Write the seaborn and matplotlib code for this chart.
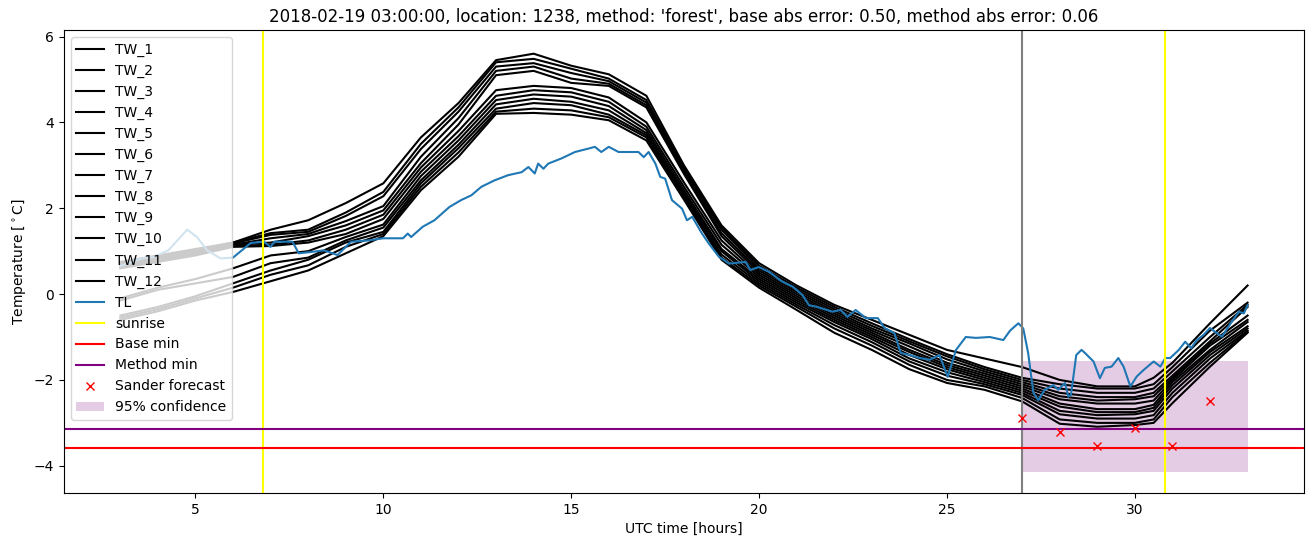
import matplotlib
matplotlib.use("Agg")
import matplotlib.pyplot as plt
import seaborn as sns

# ---------------- data ----------------
tw_hours = [3, 4, 5, 6, 7, 8, 9, 10, 11, 12, 13, 14, 15, 16, 17, 18, 19, 20, 21, 22,
            23, 24, 25, 26, 27, 28, 29, 30, 30.5, 31, 32, 33]

TW_1 = [0.75, 0.9, 1.05, 1.2, 1.5, 1.72, 2.12, 2.58, 3.65, 4.45, 5.45, 5.6, 5.32, 5.12, 4.62, 3.0,
        1.6, 0.72, 0.2, -0.25, -0.6, -0.95, -1.3, -1.5, -1.7, -2.0, -2.15, -2.15, -1.95, -1.6, -0.68, 0.2]
TW_2 = [0.72, 0.87, 1.02, 1.2, 1.42, 1.5, 1.9, 2.38, 3.5, 4.35, 5.4, 5.48, 5.25, 5.02, 4.52, 2.95,
        1.55, 0.66, 0.15, -0.3, -0.68, -1.05, -1.4, -1.7, -1.95, -2.1, -2.2, -2.2, -2.1, -1.7, -0.85, -0.2]
TW_3 = [0.7, 0.85, 1.0, 1.18, 1.38, 1.45, 1.82, 2.28, 3.38, 4.25, 5.3, 5.38, 5.15, 4.96, 4.46, 2.9,
        1.5, 0.6, 0.1, -0.35, -0.74, -1.1, -1.45, -1.75, -2.0, -2.2, -2.3, -2.3, -2.2, -1.8, -1.0, -0.25]
TW_4 = [0.68, 0.82, 0.98, 1.15, 1.3, 1.4, 1.7, 2.05, 3.2, 4.1, 5.2, 5.3, 5.02, 4.9, 4.4, 2.85,
        1.42, 0.55, 0.05, -0.4, -0.8, -1.15, -1.52, -1.8, -2.05, -2.3, -2.4, -2.4, -2.3, -1.9, -1.1, -0.3]
TW_5 = [0.65, 0.8, 0.95, 1.15, 1.2, 1.35, 1.6, 1.95, 3.05, 3.95, 5.1, 5.2, 4.92, 4.85, 4.35, 2.8,
        1.35, 0.5, 0.0, -0.45, -0.85, -1.22, -1.6, -1.85, -2.1, -2.38, -2.48, -2.45, -2.38, -1.95, -1.15, -0.5]
TW_6 = [0.62, 0.78, 0.92, 1.12, 1.15, 1.25, 1.5, 1.85, 2.95, 3.8, 4.75, 4.85, 4.8, 4.58, 4.0, 2.6,
        1.25, 0.45, -0.05, -0.5, -0.9, -1.3, -1.65, -1.9, -2.15, -2.45, -2.55, -2.55, -2.48, -2.0, -1.2, -0.6]
TW_7 = [0.6, 0.75, 0.9, 1.1, 1.12, 1.2, 1.4, 1.75, 2.85, 3.68, 4.62, 4.75, 4.7, 4.48, 3.9, 2.5,
        1.15, 0.4, -0.1, -0.55, -0.95, -1.35, -1.7, -1.95, -2.2, -2.55, -2.68, -2.68, -2.58, -2.05, -1.3, -0.65]
TW_8 = [-0.1, 0.15, 0.35, 0.6, 0.9, 1.0, 1.33, 1.62, 2.75, 3.58, 4.52, 4.65, 4.6, 4.38, 3.82, 2.42,
        1.05, 0.35, -0.15, -0.6, -1.0, -1.42, -1.75, -2.0, -2.25, -2.62, -2.75, -2.75, -2.65, -2.12, -1.35, -0.75]
TW_9 = [-0.15, 0.1, 0.25, 0.4, 0.72, 0.85, 1.25, 1.55, 2.65, 3.48, 4.42, 4.55, 4.48, 4.28, 3.75, 2.35,
        1.0, 0.3, -0.2, -0.65, -1.05, -1.5, -1.82, -2.05, -2.3, -2.72, -2.82, -2.8, -2.72, -2.2, -1.42, -0.8]
TW_10 = [-0.5, -0.3, -0.05, 0.25, 0.55, 0.8, 1.2, 1.45, 2.58, 3.4, 4.32, 4.45, 4.4, 4.18, 3.7, 2.3,
         0.92, 0.25, -0.25, -0.72, -1.12, -1.57, -1.9, -2.1, -2.35, -2.8, -2.9, -2.9, -2.82, -2.3, -1.5, -0.85]
TW_11 = [-0.55, -0.35, -0.1, 0.15, 0.45, 0.67, 1.1, 1.4, 2.5, 3.3, 4.25, 4.32, 4.28, 4.12, 3.65, 2.25,
         0.85, 0.2, -0.3, -0.8, -1.2, -1.65, -2.0, -2.15, -2.42, -2.92, -3.0, -3.0, -2.92, -2.4, -1.6, -0.88]
TW_12 = [-0.6, -0.4, -0.15, 0.05, 0.3, 0.55, 0.95, 1.35, 2.42, 3.2, 4.2, 4.22, 4.18, 4.05, 3.58, 2.2,
         0.8, 0.15, -0.37, -0.9, -1.3, -1.75, -2.07, -2.23, -2.5, -3.02, -3.09, -3.05, -3.0, -2.54, -1.69, -0.9]

tw_names = ["TW_1", "TW_2", "TW_3", "TW_4", "TW_5", "TW_6",
            "TW_7", "TW_8", "TW_9", "TW_10", "TW_11", "TW_12"]
tw_series = [TW_1, TW_2, TW_3, TW_4, TW_5, TW_6, TW_7, TW_8, TW_9, TW_10, TW_11, TW_12]

tl_hours = [3.0, 3.57, 3.88, 4.28, 4.78, 5.04, 5.31, 5.67, 6.0, 6.47,
            6.82, 7.0, 7.1, 7.58, 7.75, 8.07, 8.42, 8.78, 9.14, 9.6,
            10.0, 10.52, 10.65, 10.74, 11.05, 11.36, 11.76, 12.07, 12.34, 12.61,
            12.96, 13.32, 13.68, 13.86, 14.03, 14.12, 14.26, 14.39, 14.74, 15.1,
            15.46, 15.63, 15.8, 16.0, 16.26, 16.79, 16.93, 17.06, 17.24, 17.37,
            17.5, 17.68, 17.95, 18.08, 18.22, 18.48, 18.66, 18.93, 19.2, 19.64,
            19.77, 19.99, 20.26, 20.6, 20.9, 21.15, 21.33, 21.55, 21.95, 22.17,
            22.35, 22.57, 22.84, 23.16, 23.34, 23.6, 23.77, 24.0, 24.28, 24.54,
            24.8, 25.02, 25.24, 25.5, 25.77, 26.14, 26.5, 26.68, 26.9, 27.03,
            27.16, 27.3, 27.43, 27.6, 27.83, 27.96, 28.14, 28.23, 28.3, 28.44,
            28.58, 28.67, 28.9, 29.07, 29.2, 29.38, 29.56, 29.7, 29.88, 30.05,
            30.23, 30.5, 30.68, 30.81, 30.94, 31.17, 31.34, 31.5, 31.65, 31.83,
            32.0, 32.18, 32.32, 32.55, 32.77, 32.9, 33.0]
tl_values = [0.65, 0.83, 0.86, 1.02, 1.5, 1.33, 1.02, 0.83, 0.85, 1.19,
             1.22, 1.1, 1.22, 1.22, 0.95, 0.98, 1.02, 0.91, 1.22, 1.25,
             1.3, 1.3, 1.41, 1.33, 1.57, 1.72, 2.03, 2.19, 2.3, 2.5,
             2.65, 2.77, 2.84, 2.96, 2.81, 3.04, 2.92, 3.04, 3.16, 3.31,
             3.39, 3.43, 3.31, 3.43, 3.31, 3.31, 3.19, 3.31, 3.04, 2.73,
             2.69, 2.19, 1.99, 1.72, 1.8, 1.41, 1.18, 0.87, 0.71, 0.75,
             0.56, 0.63, 0.52, 0.3, 0.17, -0.02, -0.26, -0.3, -0.41, -0.37,
             -0.53, -0.37, -0.56, -0.56, -0.79, -0.91, -1.37, -1.42, -1.49, -1.53,
             -1.42, -1.93, -1.3, -1.0, -1.02, -1.0, -1.07, -0.85, -0.68, -0.8,
             -1.37, -2.3, -2.47, -2.23, -2.12, -2.23, -2.07, -2.39, -2.35, -1.42,
             -1.3, -1.37, -1.57, -1.96, -1.72, -1.69, -1.49, -1.69, -2.15, -1.92,
             -1.77, -1.57, -1.69, -1.49, -1.49, -1.3, -1.11, -1.26, -1.07, -0.95,
             -0.79, -0.91, -0.99, -0.68, -0.41, -0.45, -0.26]

sunrise_hours = [6.81, 30.8]
forecast_time = 27.0
base_min = -3.59
method_min = -3.15
sander_hours = [27, 28, 29, 30, 31, 32]
sander_values = [-2.89, -3.22, -3.55, -3.12, -3.53, -2.49]
conf_hours = [27, 33]
conf_low = [-4.15, -4.15]
conf_high = [-1.57, -1.57]

title = ("2018-02-19 03:00:00, location: 1238, method: 'forest', "
         "base abs error: 0.50, method abs error: 0.06")

# ---------------- plot ----------------
fig, ax = plt.subplots(figsize=(13.13, 5.47), dpi=100)
fig.subplots_adjust(left=0.0487, right=0.9931, top=0.945, bottom=0.099)

for name, vals in zip(tw_names, tw_series):
    sns.lineplot(x=tw_hours, y=vals, color="black", label=name, ax=ax,
                 linewidth=1.5, legend=False)
sns.lineplot(x=tl_hours, y=tl_values, color="#1f77b4", label="TL", ax=ax,
             linewidth=1.5, legend=False)

ax.axvline(sunrise_hours[0], color="yellow", label="sunrise")
ax.axvline(sunrise_hours[1], color="yellow")
ax.axvline(forecast_time, color="gray")
ax.axhline(base_min, color="red", label="Base min")
ax.axhline(method_min, color="purple", label="Method min")
ax.plot(sander_hours, sander_values, "x", color="red", label="Sander forecast")
ax.fill_between(conf_hours, conf_low, conf_high, color="purple", alpha=0.2,
                linewidth=0, label="95% confidence")

ax.set_xlim(1.5, 34.5)
ax.set_ylim(-4.63, 6.15)
ax.set_xlabel("UTC time [hours]")
ax.set_ylabel("Temperature [$^\\circ$C]")
ax.set_title(title, fontsize=12)
ax.legend(loc="upper left")

fig.savefig("out.png", dpi=100)
